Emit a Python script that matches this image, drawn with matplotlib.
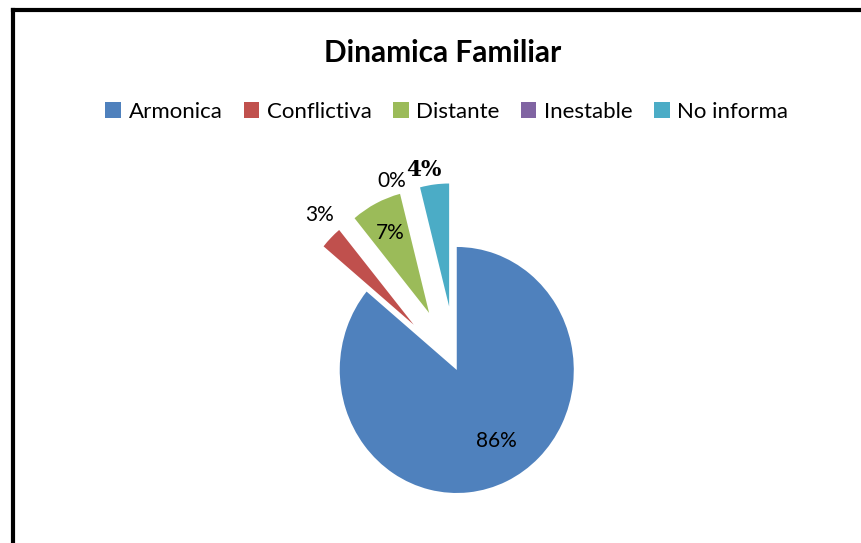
import matplotlib
matplotlib.use('agg')
import matplotlib.pyplot as plt
from matplotlib.lines import Line2D
from matplotlib.patches import Patch
import numpy as np

plt.rcParams['font.family'] = ['Lato', 'DejaVu Sans']

categories = ["Armonica", "Conflictiva", "Distante", "Inestable", "No informa"]
values = [86, 3, 7, 0, 4]
colors = ["#4F81BD", "#C0504D", "#9BBB59", "#8064A2", "#4BACC6"]
explode = [0, 0.52, 0.52, 0.52, 0.52]

# label placement (distance from exploded wedge centre, extra angle in degrees)
label_dist = [0.67, 1.2, 0.73, 1.12, 1.13]
label_turn = [5, -3, 0, 8, 4]

fig = plt.figure(figsize=(8.61, 5.43), dpi=100)

# pie axes sized so that one data unit is ~117 px wide and ~123 px high
ax = fig.add_axes([0.2315, 0.0468, 0.598, 0.7249])
wedges, _ = ax.pie(values, colors=colors, explode=explode, startangle=90,
                   counterclock=False, radius=1.0, normalize=True)
ax.set_aspect('auto')
ax.set_xlim(-2.2, 2.2)
ax.set_ylim(-1.2, 2.0)
ax.axis('off')

for i, w in enumerate(wedges):
    ang = np.deg2rad((w.theta1 + w.theta2) / 2 + label_turn[i])
    cx, cy = w.center
    x = cx + label_dist[i] * np.cos(ang)
    y = cy + label_dist[i] * np.sin(ang)
    pct = "%d%%" % round(values[i] / sum(values) * 100)
    if i == 4:
        ax.text(x, y, pct, ha='center', va='center', fontsize=15.5,
                family='DejaVu Serif', fontweight='bold')
    else:
        ax.text(x, y, pct, ha='center', va='center', fontsize=15)

fig.text(0.514, 0.902, "Dinamica Familiar", ha='center', va='center',
         fontsize=21.5, fontweight='bold')

handles = [Patch(facecolor=c, edgecolor='none') for c in colors]
fig.legend(handles, categories, loc='center', bbox_to_anchor=(0.519, 0.794),
           ncol=5, frameon=False, fontsize=16, handlelength=0.7,
           handleheight=0.7, handletextpad=0.35, columnspacing=0.95)

# chart border (only left and top edges visible)
fig.add_artist(Line2D([0.0151, 0.0151], [0.0, 0.982], color='black', linewidth=3,
                      transform=fig.transFigure))
fig.add_artist(Line2D([0.0151, 1.0], [0.982, 0.982], color='black', linewidth=3,
                      transform=fig.transFigure, solid_capstyle='projecting'))

fig.savefig("out.png", dpi=100)
